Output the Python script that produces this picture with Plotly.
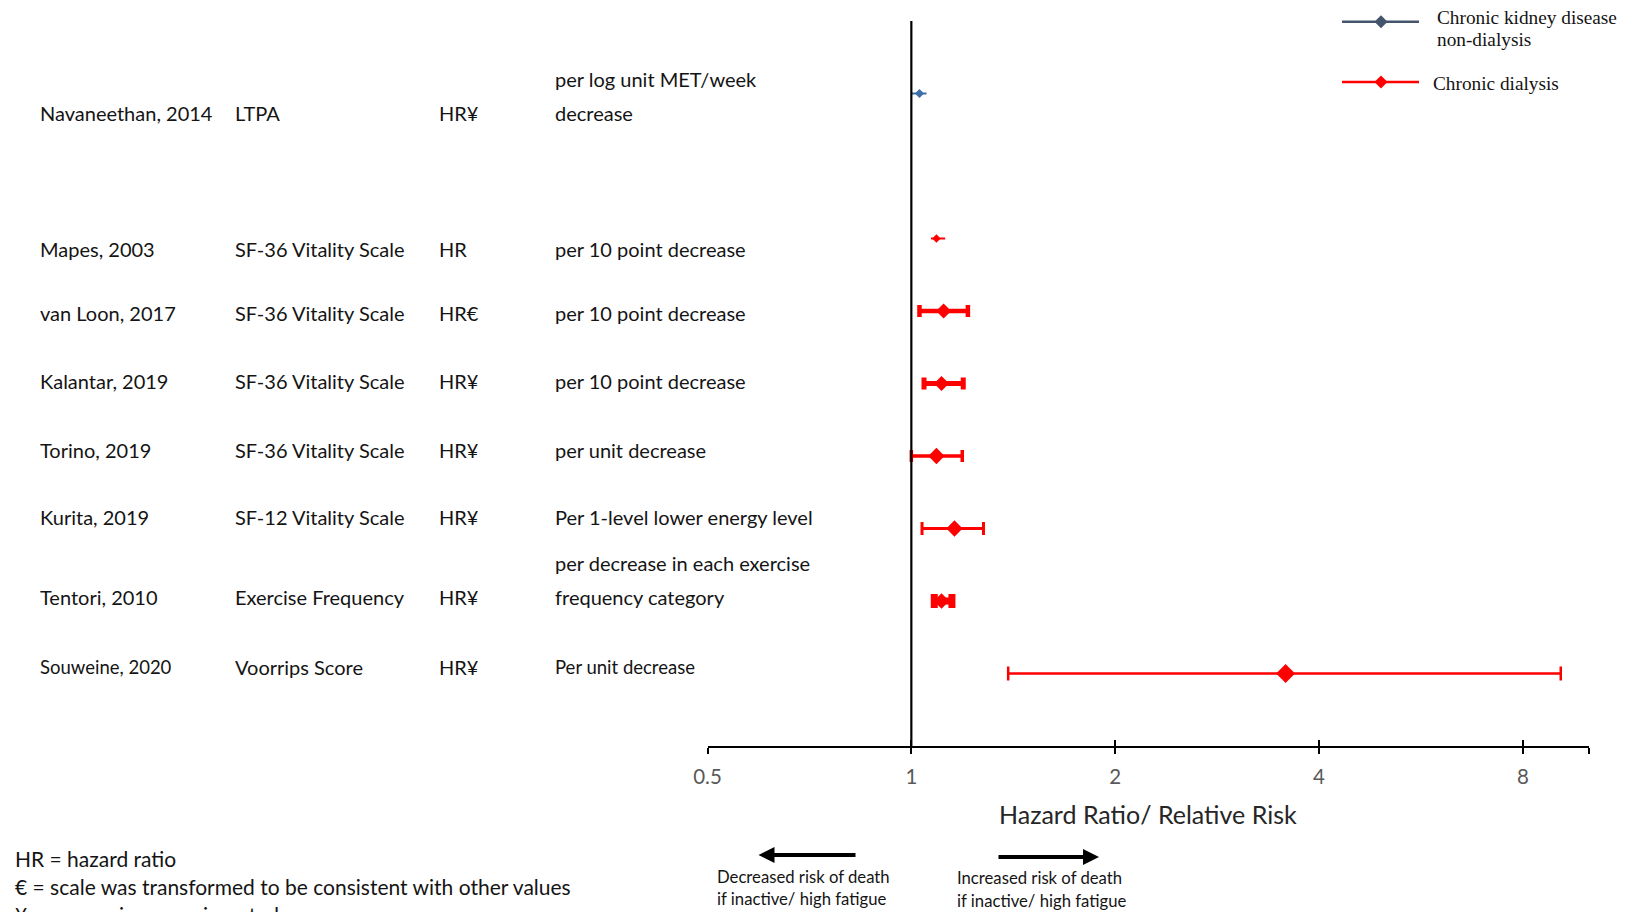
import plotly.graph_objects as go

W, H = 1629, 912

# ---------------- data ----------------
studies = ["Navaneethan, 2014", "Mapes, 2003", "van Loon, 2017", "Kalantar, 2019",
           "Torino, 2019", "Kurita, 2019", "Tentori, 2010", "Souweine, 2020"]
measures = ["LTPA", "SF-36 Vitality Scale", "SF-36 Vitality Scale", "SF-36 Vitality Scale",
            "SF-36 Vitality Scale", "SF-12 Vitality Scale", "Exercise Frequency", "Voorrips Score"]
effects = ["HR¥", "HR", "HR€", "HR¥", "HR¥", "HR¥", "HR¥", "HR¥"]
units = ["per log unit MET/week\ndecrease", "per 10 point decrease", "per 10 point decrease",
         "per 10 point decrease", "per unit decrease", "Per 1-level lower energy level",
         "per decrease in each exercise\nfrequency category", "Per unit decrease"]
hr = [1.028, 1.089, 1.116, 1.108, 1.089, 1.158, 1.108, 3.57]
ci_low = [1.000, 1.069, 1.028, 1.044, 1.000, 1.037, 1.081, 1.39]
ci_high = [1.053, 1.122, 1.212, 1.193, 1.189, 1.278, 1.148, 9.10]
population = ["Chronic kidney disease non-dialysis", "Chronic dialysis", "Chronic dialysis",
              "Chronic dialysis", "Chronic dialysis", "Chronic dialysis", "Chronic dialysis",
              "Chronic dialysis"]
tick_vals = [0.5, 1, 2, 4, 8, 10]
tick_text = ["0.5", "1", "2", "4", "8", ""]

# ---------------- layout helpers (positions / styles) ----------------
row_pos = [9, 7, 6, 5, 4, 3, 2, 1]
text_pos = [8.73, 6.86, 5.97, 5.03, 4.08, 3.16, 2.06, 1.09]
line_gap = 0.47
marker_size = [7, 6.5, 11.5, 11.5, 12.5, 12.5, 12, 14.5]
bar_thick = [2, 2, 4.5, 5, 3.5, 3, 7, 2.5]
cap_width = [0, 0, 6, 6, 6, 6.5, 7, 7]
pop_color = {"Chronic kidney disease non-dialysis": "#3E6FA8", "Chronic dialysis": "#FF0000"}
text_size = [20, 20, 20, 20, 20, 20, 20, 18.5]

BODY = "Lato, Open Sans, sans-serif"
LAT = "Lato, Open Sans, sans-serif"
SERIF = "Liberation Serif, Times New Roman, serif"
TXT = "#141414"

x_dom = [707.5 / W, 1588.5 / W]
y_dom = [166 / H, 891 / H]

fig = go.Figure()
for i in range(len(studies)):
    c = pop_color[population[i]]
    fig.add_trace(go.Scatter(
        x=[hr[i]], y=[row_pos[i]], mode="markers",
        marker=dict(symbol="diamond", size=marker_size[i], color=c, line=dict(width=0)),
        error_x=dict(type="data", symmetric=False,
                     array=[ci_high[i] - hr[i]], arrayminus=[hr[i] - ci_low[i]],
                     color=c, thickness=bar_thick[i], width=cap_width[i]),
        showlegend=False, hoverinfo="skip"))

# invisible trace on the overlay axis that draws the inner half of the ticks
fig.add_trace(go.Scatter(x=[1], y=[0], xaxis="x2", yaxis="y", mode="markers",
                         marker=dict(opacity=0), showlegend=False, hoverinfo="skip"))

fig.update_layout(
    template="none",
    width=W, height=H, margin=dict(l=0, r=0, t=0, b=0, pad=0, autoexpand=False),
    showlegend=False,
    paper_bgcolor="white", plot_bgcolor="white",
    xaxis=dict(type="log", domain=x_dom, range=[-0.30103, 1.0], showgrid=False, zeroline=False,
               showline=True, linecolor="black", linewidth=2, automargin=False,
               tickvals=tick_vals, ticktext=tick_text, ticks="outside", ticklen=6,
               tickwidth=2, tickcolor="black", ticklabelstandoff=5,
               tickfont=dict(family=LAT, size=20.5, color="#595959"), anchor="y"),
    xaxis2=dict(type="log", domain=x_dom, range=[-0.30103, 1.0], overlaying="x", anchor="y",
                showgrid=False, zeroline=False, showline=False, automargin=False,
                tickvals=tick_vals, ticks="inside", ticklen=6, tickwidth=2,
                tickcolor="black", showticklabels=False),
    yaxis=dict(domain=y_dom, range=[0, 10], visible=False, automargin=False),
)

# reference line at HR = 1
fig.add_shape(type="line", xref="x", yref="paper", x0=1, x1=1, y0=y_dom[0], y1=y_dom[1],
              line=dict(color="black", width=2.2))

# table text
col_x = [37.5, 232.8, 437.5, 552.8]
for i in range(len(studies)):
    cols = [studies[i], measures[i], effects[i]]
    sz = [text_size[i], 20, 20]
    for j, t in enumerate(cols):
        fig.add_annotation(text=t, xref="paper", yref="y", x=col_x[j] / W, y=text_pos[i],
                           xanchor="left", yanchor="middle", showarrow=False,
                           font=dict(family=BODY, size=sz[j], color=TXT))
    lines = units[i].split("\n")
    n = len(lines)
    for k, t in enumerate(lines):
        fig.add_annotation(text=t, xref="paper", yref="y", x=col_x[3] / W,
                           y=text_pos[i] + (n - 1 - k) * line_gap,
                           xanchor="left", yanchor="middle", showarrow=False,
                           font=dict(family=BODY, size=text_size[i], color=TXT))

# axis title
fig.add_annotation(text="Hazard Ratio/ Relative Risk", xref="paper", yref="paper",
                   x=1148 / W, y=1 - 814 / H, showarrow=False, xanchor="center", yanchor="middle",
                   font=dict(family=LAT, size=25, color="#262626"))

# legend (drawn manually)
leg = [(["Chronic kidney disease", "non-dialysis"], 21.8, 1435, "#44546A"),
       (["Chronic dialysis"], 82, 1430.6, "#FF0000")]
for lns, ly, tx, lc in leg:
    fig.add_shape(type="line", xref="paper", yref="paper", x0=1342 / W, x1=1419 / W,
                  y0=1 - ly / H, y1=1 - ly / H, line=dict(color=lc, width=2.5))
    cx, cy, r = 1381, ly, 6.5
    fig.add_shape(type="path", xref="paper", yref="paper",
                  path=f"M {(cx - r) / W},{1 - cy / H} L {cx / W},{1 - (cy - r) / H} "
                       f"L {(cx + r) / W},{1 - cy / H} L {cx / W},{1 - (cy + r) / H} Z",
                  fillcolor=lc, line=dict(width=0))
    for k, t in enumerate(lns):
        yy = (17.7 + 21.8 * k) if len(lns) > 1 else 83
        fig.add_annotation(text=t, xref="paper", yref="paper", x=tx / W, y=1 - yy / H,
                           xanchor="left", yanchor="middle", showarrow=False,
                           font=dict(family=SERIF, size=19.3, color=TXT))

# direction arrows
fig.add_annotation(x=758.5 / W, y=1 - 855 / H, xref="paper", yref="paper", ax=857 - 758.5, ay=0,
                   axref="pixel", ayref="pixel", text="", showarrow=True, arrowhead=2,
                   arrowsize=0.8, arrowwidth=4, arrowcolor="black")
fig.add_annotation(x=1099 / W, y=1 - 857 / H, xref="paper", yref="paper", ax=997 - 1099, ay=0,
                   axref="pixel", ayref="pixel", text="", showarrow=True, arrowhead=2,
                   arrowsize=0.8, arrowwidth=4, arrowcolor="black")
for tx, ys, lns in [(715, [877, 899], ["Decreased risk of death", "if inactive/ high fatigue"]),
                    (955, [878, 901], ["Increased risk of death", "if inactive/ high fatigue"])]:
    for yy, t in zip(ys, lns):
        fig.add_annotation(text=t, xref="paper", yref="paper", x=tx / W, y=1 - yy / H,
                           xanchor="left", yanchor="middle", showarrow=False,
                           font=dict(family=LAT, size=16.7, color=TXT))

# footnotes
for yy, t in [(858, "HR = hazard ratio"),
              (886, "€ = scale was transformed to be consistent with other values"),
              (914, "¥ = comparison was inverted")]:
    fig.add_annotation(text=t, xref="paper", yref="paper", x=12.5 / W, y=1 - yy / H,
                       xanchor="left", yanchor="middle", showarrow=False,
                       font=dict(family=LAT, size=21, color=TXT))

fig.write_html("out.html")
